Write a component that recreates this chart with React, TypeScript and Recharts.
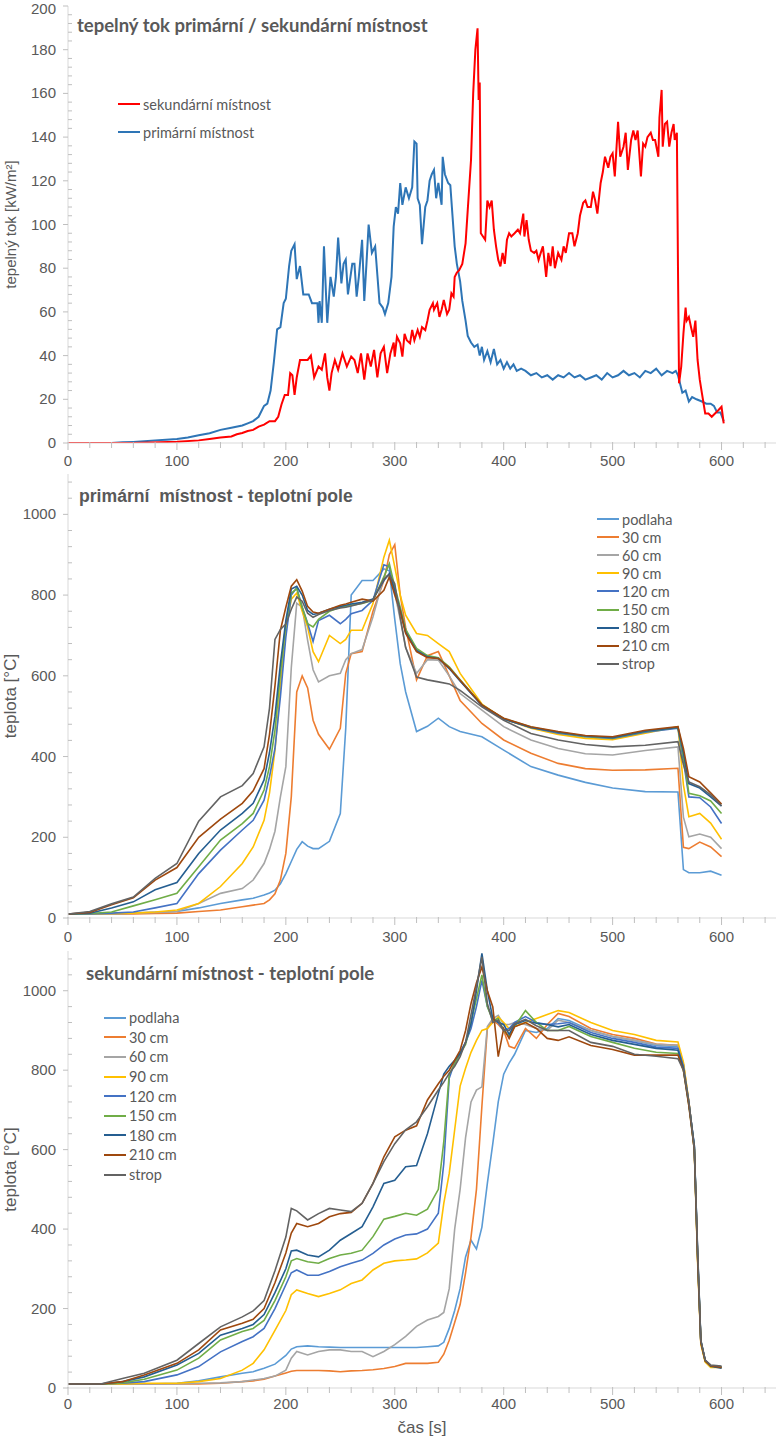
import React from "react";
import { LineChart, Line, XAxis, YAxis, Legend } from "recharts";

// ---------- panel 1: heat flux [kW/m2] ----------
const primaryTime = [
  0, 40, 50, 60, 70, 80, 90, 100, 110, 120,
  130, 140, 150, 160, 165, 170, 175, 180, 183, 186,
  189, 192, 195, 198, 200, 203, 205, 208, 210, 213,
  216, 221, 224, 229, 230, 231, 233, 235, 238, 241,
  244, 246, 248, 251, 253, 255, 257, 261, 263, 265,
  267, 270, 272, 274, 276, 279, 282, 284, 286, 289,
  291, 294, 297, 299, 301, 303, 305, 307, 310, 313,
  316, 318, 320, 321, 323, 325, 328, 330, 332, 334,
  336, 338, 340, 343, 344, 346, 349, 351, 353, 355,
  357, 360, 362, 365, 367, 370, 373, 376, 378, 380,
  382, 385, 388, 391, 394, 397, 400, 403, 406, 409,
  412, 416, 420, 425, 430, 435, 440, 445, 450, 455,
  460, 465, 470, 475, 480, 485, 490, 495, 500, 505,
  510, 515, 520, 525, 530, 535, 540, 545, 550, 555,
  558, 560, 562, 564, 567, 570, 573, 577, 582, 586,
  590, 593, 596, 599, 602,
];
const primaryFlux = [
  0, 0, 0.3, 0.5, 0.8, 1.2, 1.5, 1.8, 2.5, 3.5,
  4.5, 6, 7, 8, 9, 10, 12, 17, 18, 24,
  37, 52, 53, 64, 66, 81, 88, 91, 75, 81,
  68, 68, 64, 64, 55, 65, 55, 90, 55, 76,
  67, 76, 94, 73, 82, 84, 68, 82, 82, 67,
  76, 93, 65, 82, 100, 87, 90, 77, 64, 62,
  59, 64, 76, 99, 108, 105, 119, 109, 117, 112,
  117, 138, 137, 112, 109, 91, 108, 111, 120, 123,
  125, 112, 119, 109, 131, 123, 119, 118, 104, 90,
  82, 74, 65, 56, 49, 46, 44, 45, 40, 44,
  38, 42, 37, 43, 36, 38, 34, 37, 34, 36,
  33, 34, 33, 31, 32, 30, 31, 29, 31, 30,
  32, 30, 31, 29, 30, 31, 29, 32, 30, 31,
  33, 31, 32, 30, 33, 32, 34, 31, 33, 32,
  33, 31, 27, 23, 24, 19, 21, 20, 19, 18,
  18, 17, 14, 14, 10,
];
const secondaryTime = [
  0, 60, 100, 120, 130, 140, 150, 155, 160, 165,
  170, 175, 180, 185, 190, 193, 196, 199, 202, 204,
  206, 208, 210, 213, 216, 220, 223, 226, 230, 233,
  236, 238, 240, 242, 245, 248, 252, 256, 260, 263,
  266, 269, 272, 275, 278, 281, 284, 287, 290, 293,
  296, 299, 300, 302, 305, 307, 309, 311, 314, 316,
  318, 321, 323, 325, 328, 330, 332, 335, 336, 339,
  341, 343, 345, 348, 350, 352, 354, 355, 357, 359,
  362, 365, 367, 370, 372, 374, 376, 377, 378, 379,
  381, 383, 385, 387, 389, 391, 393, 395, 397, 399,
  401, 403, 405, 407, 410, 413, 415, 418, 419, 421,
  423, 425, 428, 430, 432, 434, 436, 439, 441, 443,
  445, 447, 450, 453, 455, 457, 460, 463, 465, 468,
  470, 473, 475, 477, 480, 482, 484, 486, 489, 491,
  493, 496, 498, 500, 502, 505, 507, 510, 512, 514,
  517, 519, 521, 523, 526, 528, 530, 532, 535, 537,
  539, 542, 543, 545, 546, 548, 550, 552, 554, 556,
  557, 559, 560, 561, 563, 565, 567, 568, 570, 572,
  574, 576, 578, 580, 582, 585, 588, 591, 594, 597,
  600, 602,
];
const secondaryFlux = [
  0, 0, 0.6, 1.2, 1.8, 2.5, 3, 4, 4.6, 5.5,
  6, 7.5, 8.4, 10, 10, 12, 17.6, 22, 22, 32,
  31, 22, 30, 38, 38, 38, 40, 30, 35, 33.5,
  41, 30, 24, 32, 38, 33.5, 41, 35, 39.6, 38,
  32, 41, 29, 41, 35, 42.6, 30, 41, 44, 32,
  41, 46, 39.5, 48.6, 45.6, 39.5, 50, 47, 45.6, 51.7,
  47, 51.7, 48.6, 53, 51.7, 56, 61, 64, 61, 64,
  57.7, 61, 65.5, 59, 61, 68.5, 67, 76, 78, 79,
  82, 91.4, 106.7, 129.5, 160, 180, 189.8, 157, 165, 96,
  94.5, 93, 111, 108, 111, 97.6, 90, 83.8, 80.8, 87,
  82, 93, 96, 94.5, 96, 97.6, 96, 105, 94.5, 102,
  93, 88, 87, 88, 83.8, 87, 90, 76, 87, 81,
  90, 80, 87, 83.8, 90, 87, 96, 96, 90, 96,
  104, 110, 111, 108, 108, 115, 111, 105, 119, 124,
  131, 126, 131, 132.6, 122, 147, 131, 135.6, 142, 125,
  138.7, 143, 138.7, 143, 122, 137, 135.6, 140, 142, 138.7,
  138.7, 131, 149, 161.6, 135.6, 146, 147, 135.6, 142, 146,
  138.7, 142, 80.8, 27.3, 35, 50, 62, 56, 57.7, 53,
  48.6, 56, 38, 29, 22.7, 13.5, 13.5, 12, 13.5, 15,
  16.6, 9,
];

// ---------- panel 2: primary room temperatures [°C] ----------
const priTime = [
  0, 20, 40, 60, 80, 100, 120, 140, 160, 170,
  180, 185, 190, 195, 200, 205, 210, 215, 220, 225,
  230, 240, 250, 255, 260, 270, 280, 290, 295, 300,
  305, 310, 320, 330, 340, 350, 360, 380, 400, 425,
  450, 475, 500, 530, 560, 565, 570, 580, 590, 600,
];
const priPodlaha = [
  10, 10, 10, 12, 14, 16, 25, 36, 45, 49,
  57, 62, 69, 85, 110, 140, 170, 189, 178, 172,
  172, 190, 259, 470, 800, 836, 836, 865, 860, 740,
  630, 560, 462, 475, 495, 474, 462, 449, 416, 375,
  354, 336, 322, 313, 312, 120, 112, 112, 116, 106,
];
const pri30 = [
  10, 10, 10, 10, 11, 12, 16, 20, 28, 32,
  36, 45, 60, 94, 160, 300, 560, 600, 570, 490,
  455, 418, 470, 606, 655, 660, 760, 836, 900, 925,
  800, 720, 590, 650, 660, 600, 539, 482, 441, 408,
  383, 370, 366, 367, 371, 175, 172, 188, 176, 152,
];
const pri60 = [
  10, 10, 10, 12, 14, 16, 36, 61, 73, 94,
  135, 170, 215, 300, 375, 620, 780, 770, 688, 615,
  585, 600, 606, 640, 655, 665, 746, 845, 850, 805,
  740, 670, 606, 640, 639, 600, 556, 515, 474, 441,
  420, 407, 404, 415, 424, 250, 201, 208, 200, 172,
];
const pri90 = [
  10, 10, 11, 12, 15, 20, 36, 78, 135, 176,
  242, 310, 415, 572, 713, 790, 805, 760, 721, 660,
  635, 700, 680, 690, 713, 713, 779, 894, 936, 870,
  800, 750, 705, 700, 680, 660, 606, 530, 493, 470,
  455, 445, 442, 458, 474, 330, 251, 259, 235, 195,
];
const pri120 = [
  10, 10, 12, 15, 25, 36, 110, 168, 218, 242,
  292, 350, 420, 548, 696, 800, 818, 770, 730, 685,
  737, 750, 729, 740, 754, 762, 787, 875, 870, 812,
  765, 710, 665, 648, 644, 620, 588, 527, 493, 472,
  458, 449, 445, 460, 470, 390, 300, 298, 275, 234,
];
const pri150 = [
  10, 11, 15, 30, 45, 61, 127, 193, 234, 259,
  317, 375, 465, 605, 729, 805, 816, 770, 729, 721,
  740, 760, 770, 772, 775, 779, 787, 845, 878, 820,
  770, 715, 668, 650, 645, 622, 590, 528, 494, 473,
  460, 450, 446, 462, 472, 400, 309, 303, 290, 259,
];
const pri180 = [
  10, 12, 25, 40, 70, 88, 160, 218, 259, 284,
  342, 410, 500, 630, 737, 815, 822, 800, 762, 752,
  755, 765, 772, 775, 778, 782, 790, 836, 853, 812,
  762, 708, 662, 647, 643, 618, 587, 527, 493, 472,
  460, 451, 447, 463, 472, 410, 333, 322, 300, 277,
];
const pri210 = [
  10, 14, 33, 50, 94, 125, 200, 245, 284, 315,
  370, 455, 575, 713, 770, 822, 838, 810, 772, 758,
  755, 765, 775, 778, 782, 790, 785, 812, 845, 800,
  760, 705, 660, 645, 643, 620, 589, 528, 495, 474,
  462, 452, 449, 465, 474, 420, 350, 337, 310, 282,
];
const priStrop = [
  10, 16, 35, 52, 98, 135, 240, 300, 328, 358,
  424, 520, 690, 715, 728, 765, 795, 785, 755, 745,
  752, 762, 768, 770, 773, 780, 788, 840, 850, 828,
  745, 670, 597, 590, 585, 580, 564, 523, 490, 457,
  441, 430, 424, 428, 437, 380, 337, 325, 305, 278,
];

// ---------- panel 3: secondary room temperatures [°C] ----------
const sekTime = [
  0, 30, 50, 70, 100, 120, 140, 160, 170, 180,
  190, 200, 205, 210, 220, 230, 240, 250, 260, 270,
  280, 290, 300, 310, 320, 330, 340, 345, 350, 355,
  360, 365, 370, 375, 380, 385, 390, 395, 400, 405,
  410, 420, 430, 440, 450, 460, 480, 500, 520, 540,
  560, 565, 570, 575, 578, 581, 585, 590, 600,
];
const sekPodlaha = [
  10, 10, 10, 10, 12, 18, 28, 37, 41, 50,
  60, 82, 98, 104, 106, 104, 103, 102, 102, 102,
  102, 102, 102, 102, 102, 104, 106, 115, 150, 195,
  250, 330, 372, 350, 405, 515, 615, 720, 790, 818,
  840, 900, 895, 905, 930, 925, 900, 885, 875, 862,
  859, 812, 718, 608, 335, 118, 68, 55, 52,
];
const sek30 = [
  10, 10, 10, 10, 10, 10, 12, 16, 18, 22,
  30, 38, 42, 44, 44, 44, 43, 41, 43, 44,
  46, 49, 54, 62, 62, 62, 65, 85, 120, 165,
  210, 290, 380, 500, 710, 905, 926, 915, 900, 860,
  855, 905, 880, 915, 943, 935, 905, 890, 880, 866,
  863, 815, 720, 605, 330, 115, 68, 55, 52,
];
const sek60 = [
  10, 10, 10, 10, 10, 12, 13, 16, 20, 24,
  30, 45, 75, 92, 83, 92, 96, 96, 92, 92,
  79, 92, 109, 130, 155, 171, 180, 190, 250, 400,
  500, 630, 720, 750, 758, 910, 930, 938, 915, 915,
  920, 915, 905, 900, 926, 920, 900, 885, 875, 865,
  863, 815, 718, 605, 330, 115, 68, 54, 52,
];
const sek90 = [
  10, 10, 10, 12, 12, 16, 24, 45, 62, 96,
  145, 195, 235, 247, 238, 230, 238, 247, 263, 272,
  297, 314, 320, 322, 325, 340, 365, 465, 540, 650,
  760, 805, 845, 875, 900, 905, 920, 934, 920, 905,
  910, 920, 930, 940, 950, 945, 920, 900, 890, 875,
  871, 820, 720, 600, 320, 110, 65, 52, 52,
];
const sek120 = [
  10, 10, 12, 16, 33, 54, 91, 117, 129, 150,
  200, 260, 290, 297, 284, 284, 293, 305, 314, 322,
  339, 360, 375, 385, 388, 400, 440, 565, 780, 820,
  845, 870, 905, 960, 1026, 960, 930, 920, 900, 905,
  920, 935, 920, 915, 917, 920, 895, 880, 870, 858,
  855, 810, 718, 610, 345, 120, 70, 56, 52,
];
const sek150 = [
  10, 10, 13, 22, 45, 75, 121, 142, 150, 170,
  220, 280, 320, 326, 318, 314, 326, 335, 339, 347,
  381, 425, 432, 440, 435, 450, 500, 620, 790, 815,
  842, 865, 920, 980, 1040, 960, 925, 930, 900, 885,
  910, 950, 920, 900, 900, 910, 885, 870, 855, 845,
  842, 800, 712, 605, 335, 118, 68, 56, 52,
];
const sek180 = [
  10, 10, 16, 28, 58, 87, 133, 150, 160, 185,
  240, 300, 345, 347, 335, 330, 347, 372, 389, 406,
  456, 515, 523, 557, 560, 640, 741, 790, 810, 825,
  842, 870, 917, 1000, 1094, 1000, 930, 920, 915, 890,
  915, 925, 918, 915, 909, 915, 890, 875, 865, 855,
  850, 805, 715, 610, 340, 118, 70, 55, 50,
];
const sek210 = [
  10, 10, 16, 33, 62, 96, 146, 163, 173, 200,
  265, 340, 390, 414, 406, 414, 431, 439, 442, 465,
  515, 582, 632, 649, 660, 725, 766, 785, 800, 825,
  850, 900, 968, 1020, 1060, 1000, 959, 834, 905, 880,
  909, 920, 905, 880, 875, 884, 862, 852, 838, 838,
  838, 800, 710, 600, 330, 115, 68, 56, 52,
];
const sekStrop = [
  10, 10, 24, 37, 70, 112, 154, 179, 194, 220,
  295, 380, 452, 446, 423, 439, 452, 448, 444, 465,
  515, 570, 615, 650, 670, 708, 750, 770, 792, 810,
  834, 870, 940, 1010, 1085, 968, 920, 926, 900, 900,
  917, 928, 912, 900, 900, 900, 870, 860, 840, 835,
  829, 800, 720, 600, 350, 120, 70, 58, 55,
];

const sensorNames = ["podlaha", "30 cm", "60 cm", "90 cm", "120 cm", "150 cm", "180 cm", "210 cm", "strop"];
const fluxNames = ["sekundární místnost", "primární místnost"];

// axis ticks
const timeTicks = [0, 100, 200, 300, 400, 500, 600];
const fluxTicks = [0, 20, 40, 60, 80, 100, 120, 140, 160, 180, 200];
const tempTicks = [0, 200, 400, 600, 800, 1000];
const timeMinor = Array.from({ length: 33 }, (_, i) => i * 20);
const fluxMinor = Array.from({ length: 51 }, (_, i) => i * 4);
const tempMinor = Array.from({ length: 28 }, (_, i) => i * 40);

// styling
const sensorColors = ["#5B9BD5", "#ED7D31", "#A5A5A5", "#FFC000", "#4472C4", "#70AD47", "#255E91", "#9E480E", "#636363"];
const TEXT = "#595959";
const AXIS = "#d9d9d9";
const TICK = "#bfbfbf";
const FRAME = "#7f7f7f";
const ARIAL = "'Liberation Sans', Arial, sans-serif";
const CALIBRI = "Lato, 'Open Sans', sans-serif";

const fluxPrimary = primaryTime.map((t, i) => ({ t, v: primaryFlux[i] }));
const fluxSecondary = secondaryTime.map((t, i) => ({ t, v: secondaryFlux[i] }));

function buildRows(time: number[], series: number[][]) {
  return time.map((t, i) => {
    const row: Record<string, number> = { t };
    series.forEach((s, k) => {
      row["s" + k] = s[i];
    });
    return row;
  });
}

const priRows = buildRows(priTime, [priPodlaha, pri30, pri60, pri90, pri120, pri150, pri180, pri210, priStrop]);
const sekRows = buildRows(sekTime, [sekPodlaha, sek30, sek60, sek90, sek120, sek150, sek180, sek210, sekStrop]);

function yTick(majors: number[]) {
  return (p: any) => {
    const v = p.payload.value;
    const major = majors.includes(v);
    return (
      <g>
        {major ? (
          <line x1={p.x - 5} x2={p.x} y1={p.y} y2={p.y} stroke={TICK} />
        ) : (
          <line x1={p.x} x2={p.x + 4} y1={p.y} y2={p.y} stroke={TICK} />
        )}
        {major && (
          <text x={p.x - 12} y={Math.max(p.y + 5, 14)} textAnchor="end" fontSize={15} fill={TEXT} fontFamily={ARIAL}>
            {v}
          </text>
        )}
      </g>
    );
  };
}

function xTick(dy: number) {
  return (p: any) => {
    const v = p.payload.value;
    const major = timeTicks.includes(v);
    return (
      <g>
        <line x1={p.x} x2={p.x} y1={p.y - 1} y2={p.y + (major ? 7 : 5)} stroke={TICK} />
        {major && (
          <text x={p.x} y={p.y + dy} textAnchor="middle" fontSize={15} fill={TEXT} fontFamily={ARIAL}>
            {v}
          </text>
        )}
      </g>
    );
  };
}

function yLabel(text: string, fontSize: number) {
  return (props: any) => {
    const vb = props.viewBox || { x: 0, y: 0, width: 68, height: 400 };
    const cx = vb.x + 10;
    const cy = vb.y + vb.height / 2;
    return (
      <text
        x={cx}
        y={cy}
        transform={`rotate(-90 ${cx} ${cy})`}
        textAnchor="middle"
        dominantBaseline="central"
        fontSize={fontSize}
        fill={TEXT}
        fontFamily={ARIAL}
      >
        {text}
      </text>
    );
  };
}

// legend rows in the order of the original workbook, not alphabetical
function legendBox(rowHeight: number, fontSize: number, order: string[]) {
  return (props: any) => {
    const items = [...(props.payload || [])].sort(
      (a: any, b: any) => order.indexOf(a.value) - order.indexOf(b.value)
    );
    return (
      <div>
        {items.map((item: any) => (
          <div key={item.value} style={{ display: "flex", alignItems: "center", height: rowHeight }}>
            <span style={{ display: "inline-block", width: 22, height: 2, background: item.color }} />
            <span style={{ marginLeft: 3, fontFamily: CALIBRI, fontSize, color: TEXT, whiteSpace: "nowrap" }}>
              {item.value}
            </span>
          </div>
        ))}
      </div>
    );
  };
}

function FluxChart() {
  return (
    <LineChart width={777} height={470} margin={{ top: 6, right: 1, bottom: 0, left: 0 }}>
      <XAxis
        dataKey="t"
        type="number"
        domain={[0, 650]}
        ticks={timeMinor}
        interval={0}
        allowDataOverflow
        height={27}
        tickSize={0}
        tickMargin={0}
        tickLine={false}
        axisLine={{ stroke: AXIS }}
        tick={xTick(23)}
      />
      <XAxis xAxisId="top" orientation="top" type="number" domain={[0, 650]} allowDataOverflow height={0} tick={false} tickLine={false} axisLine={{ stroke: FRAME, strokeWidth: 2 }} />
      <YAxis
        type="number"
        domain={[0, 200]}
        ticks={fluxMinor}
        interval={0}
        allowDataOverflow
        width={68}
        tickSize={0}
        tickMargin={0}
        tickLine={false}
        axisLine={{ stroke: AXIS }}
        tick={yTick(fluxTicks)}
        label={yLabel("tepelný tok [kW/m²]", 15)}
      />
      <YAxis yAxisId="right" orientation="right" type="number" domain={[0, 200]} allowDataOverflow width={0} tick={false} tickLine={false} axisLine={{ stroke: FRAME, strokeWidth: 1.5 }} />
      <Legend layout="vertical" align="center" verticalAlign="middle" wrapperStyle={{ left: 118, top: 90 }} content={legendBox(28, 14.5, fluxNames)} />
      <Line data={fluxPrimary} dataKey="v" name="primární místnost" stroke="#2E75B6" strokeWidth={2} dot={false} activeDot={false} isAnimationActive={false} />
      <Line data={fluxSecondary} dataKey="v" name="sekundární místnost" stroke="#FF0000" strokeWidth={2} dot={false} activeDot={false} isAnimationActive={false} />
    </LineChart>
  );
}

function TempChart({ rows, height, top, xHeight, tickDy, legendPos, rowHeight, xLabel }: any) {
  return (
    <LineChart width={777} height={height} data={rows} margin={{ top, right: 1, bottom: 0, left: 0 }}>
      <XAxis
        dataKey="t"
        type="number"
        domain={[0, 650]}
        ticks={timeMinor}
        interval={0}
        allowDataOverflow
        height={xHeight}
        tickSize={0}
        tickMargin={0}
        tickLine={false}
        axisLine={{ stroke: AXIS }}
        tick={xTick(tickDy)}
        label={
          xLabel
            ? (props: any) => {
                const vb = props.viewBox || { x: 68, y: 0, width: 708 };
                return (
                  <text x={vb.x + vb.width / 2} y={vb.y + 45} textAnchor="middle" fontSize={17} fill={TEXT} fontFamily={ARIAL}>
                    {xLabel}
                  </text>
                );
              }
            : undefined
        }
      />
      <XAxis xAxisId="top" orientation="top" type="number" domain={[0, 650]} allowDataOverflow height={0} tick={false} tickLine={false} axisLine={{ stroke: FRAME, strokeWidth: 2 }} />
      <YAxis
        type="number"
        domain={[0, 1100]}
        ticks={tempMinor}
        interval={0}
        allowDataOverflow
        width={68}
        tickSize={0}
        tickMargin={0}
        tickLine={false}
        axisLine={{ stroke: AXIS }}
        tick={yTick(tempTicks)}
        label={yLabel("teplota [°C]", 17)}
      />
      <YAxis yAxisId="right" orientation="right" type="number" domain={[0, 1100]} allowDataOverflow width={0} tick={false} tickLine={false} axisLine={{ stroke: FRAME, strokeWidth: 1.5 }} />
      <Legend layout="vertical" align="center" verticalAlign="middle" wrapperStyle={legendPos} content={legendBox(rowHeight, 14.5, sensorNames)} />
      {sensorNames.map((name, k) => (
        <Line
          key={name}
          dataKey={"s" + k}
          name={name}
          stroke={sensorColors[k]}
          strokeWidth={1.6}
          dot={false}
          activeDot={false}
          isAnimationActive={false}
        />
      ))}
    </LineChart>
  );
}

const titleStyle: React.CSSProperties = {
  position: "absolute",
  fontWeight: 700,
  color: TEXT,
  lineHeight: "20px",
  whiteSpace: "pre",
};

export default function App() {
  return (
    <div style={{ position: "absolute", left: 0, top: 0, width: 777, height: 1438, background: "#fff", overflow: "hidden" }}>
      <div style={{ position: "absolute", left: 0, top: 0 }}>
        <FluxChart />
      </div>
      <div style={{ position: "absolute", left: 0, top: 470 }}>
        <TempChart rows={priRows} height={476} top={4} xHeight={28} tickDy={24} legendPos={{ left: 597, top: 40 }} rowHeight={18.1} />
      </div>
      <div style={{ position: "absolute", left: 0, top: 946 }}>
        <TempChart rows={sekRows} height={492} top={5} xHeight={50} tickDy={21} legendPos={{ left: 104, top: 62 }} rowHeight={19.6} xLabel="čas [s]" />
      </div>
      <div style={{ ...titleStyle, left: 77, top: 15, fontFamily: CALIBRI, fontSize: 18.5 }}>tepelný tok primární / sekundární místnost</div>
      <div style={{ ...titleStyle, left: 79, top: 486, fontFamily: ARIAL, fontSize: 17.6 }}>primární  místnost - teplotní pole</div>
      <div style={{ ...titleStyle, left: 86, top: 963, fontFamily: CALIBRI, fontSize: 18.6 }}>sekundární místnost - teplotní pole</div>
    </div>
  );
}
